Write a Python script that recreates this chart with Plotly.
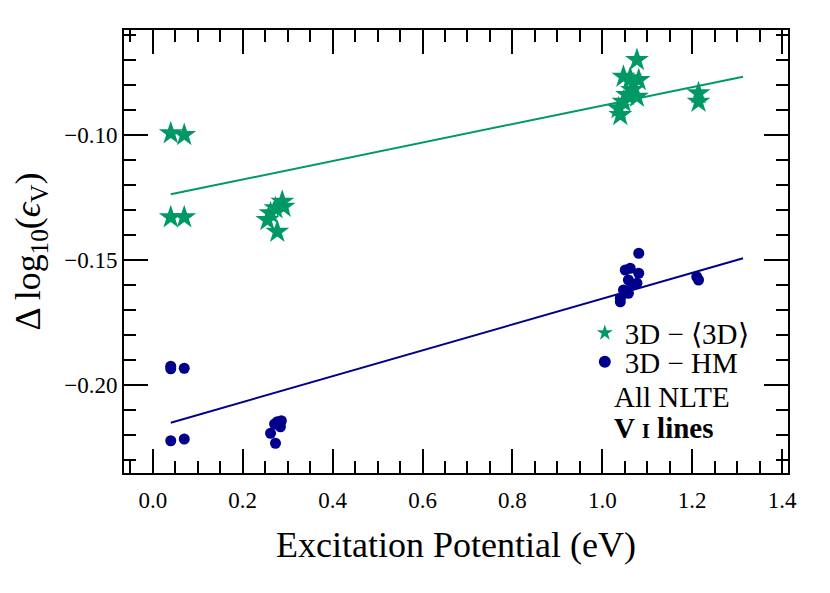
import plotly.graph_objects as go

# Datos: potencial de excitación (eV) y Δ log10(ε_V)
ep_3d_mean = [0.040, 0.070, 0.040, 0.070,
              0.288, 0.291, 0.273, 0.262, 0.255, 0.277,
              1.077, 1.047, 1.062, 1.081, 1.066, 1.055, 1.077, 1.047, 1.036, 1.040,
              1.214, 1.214]
d_3d_mean = [-0.0993, -0.1000, -0.1329, -0.1329,
             -0.1267, -0.1287, -0.1293, -0.1313, -0.1340, -0.1387,
             -0.0700, -0.0767, -0.0773, -0.0780, -0.0820, -0.0840, -0.0847, -0.0867, -0.0893, -0.0920,
             -0.0833, -0.0867]

ep_hm = [0.040, 0.040, 0.070, 0.040, 0.070,
         0.277, 0.286, 0.284, 0.271, 0.262, 0.273,
         1.081, 1.051, 1.062, 1.081, 1.058, 1.077, 1.066, 1.047, 1.058, 1.040, 1.040,
         1.210, 1.214]
d_hm = [-0.1925, -0.1935, -0.1933, -0.2223, -0.2216,
        -0.2147, -0.2143, -0.2167, -0.2156, -0.2193, -0.2233,
        -0.1473, -0.1540, -0.1533, -0.1553, -0.1580, -0.1593, -0.1600, -0.1620, -0.1633, -0.1653, -0.1667,
        -0.1567, -0.1580]

# Rectas de ajuste (extremos)
fit_ep = [0.040, 1.313]
fit_3d_mean = [-0.1237, -0.0767]
fit_hm = [-0.2151, -0.1493]

x_ticks = [0.0, 0.2, 0.4, 0.6, 0.8, 1.0, 1.2, 1.4]
y_ticks = [-0.20, -0.15, -0.10]

verde = '#009966'
azul = '#00008B'
fuente = 'Liberation Serif'

fig = go.Figure()

fig.add_trace(go.Scatter(
    x=ep_3d_mean, y=d_3d_mean, mode='markers',
    name='3D − ⟨3D⟩', legend='legend',
    marker=dict(symbol='star', size=18, color=verde, line=dict(width=0))
))
fig.add_trace(go.Scatter(
    x=ep_hm, y=d_hm, mode='markers',
    name='3D − HM', legend='legend2',
    marker=dict(symbol='circle', size=11, color=azul, line=dict(width=0))
))
fig.add_trace(go.Scatter(
    x=fit_ep, y=fit_3d_mean, mode='lines', showlegend=False,
    line=dict(color=verde, width=2)
))
fig.add_trace(go.Scatter(
    x=fit_ep, y=fit_hm, mode='lines', showlegend=False,
    line=dict(color=azul, width=2)
))

# Ejes con marcas hacia dentro en los cuatro lados
ejes = dict(
    showline=True, linecolor='black', linewidth=2, mirror='allticks',
    ticks='inside', ticklen=24, tickwidth=2, tickcolor='black',
    showgrid=False, zeroline=False,
    tickfont=dict(family=fuente, size=23, color='black'),
)

fig.update_xaxes(
    range=[-0.064, 1.413], tickvals=x_ticks, tickformat='.1f', ticklabelstandoff=5,
    minor=dict(ticks='inside', dtick=0.05, tick0=0, ticklen=12, tickwidth=1.5, tickcolor='black'),
    title=dict(text='Excitation Potential (eV)', font=dict(family=fuente, size=36, color='black'), standoff=20),
    **ejes
)
fig.update_yaxes(
    range=[-0.2352, -0.058], tickvals=y_ticks, tickformat='.2f',
    minor=dict(ticks='inside', dtick=0.01, tick0=0, ticklen=12, tickwidth=1.5, tickcolor='black'),
    title=dict(text='Δ log<sub>10</sub>(<i>ϵ</i><sub>V</sub>)', font=dict(family=fuente, size=36, color='black'), standoff=16),
    **ejes
)

leyenda = dict(
    xanchor='left', yanchor='middle', bgcolor='rgba(0,0,0,0)',
    itemwidth=30, itemsizing='constant',
    font=dict(family=fuente, size=29, color='black'),
)

fig.update_layout(
    width=830, height=593,
    margin=dict(l=116, r=50, t=22, b=128),
    plot_bgcolor='white', paper_bgcolor='white',
    font=dict(family=fuente, color='black'),
    legend=dict(x=0.694, y=0.316, **leyenda),
    legend2=dict(x=0.694, y=0.2506, **leyenda),
    annotations=[
        dict(text='All NLTE', x=0.735, y=0.1716, xref='paper', yref='paper',
             xanchor='left', yanchor='middle', showarrow=False,
             font=dict(family=fuente, size=29, color='black')),
        dict(text="<b>V <span style='font-size:21px'>I</span> lines</b>", x=0.735, y=0.1016,
             xref='paper', yref='paper', xanchor='left', yanchor='middle', showarrow=False,
             font=dict(family=fuente, size=29, color='black')),
    ]
)

fig.write_html("out.html")
